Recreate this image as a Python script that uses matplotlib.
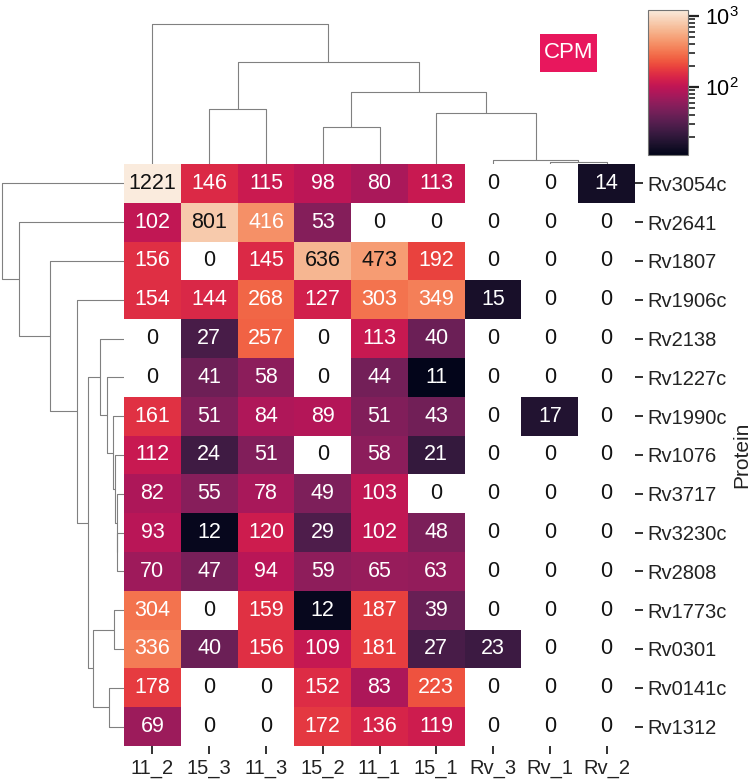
import numpy as np
import matplotlib
matplotlib.use("Agg")
import matplotlib.pyplot as plt
from matplotlib.colors import LogNorm, to_rgb
from matplotlib.patches import Rectangle
import seaborn as sns

plt.rcParams['font.family'] = ['Liberation Sans', 'DejaVu Sans']

# ---------------- data ----------------
columns = ["11_2", "15_3", "11_3", "15_2", "11_1", "15_1", "Rv_3", "Rv_1", "Rv_2"]
proteins = ["Rv3054c", "Rv2641", "Rv1807", "Rv1906c", "Rv2138", "Rv1227c", "Rv1990c",
            "Rv1076", "Rv3717", "Rv3230c", "Rv2808", "Rv1773c", "Rv0301", "Rv0141c", "Rv1312"]

rv3054c = [1221, 146, 115, 98, 80, 113, 0, 0, 14]
rv2641 = [102, 801, 416, 53, 0, 0, 0, 0, 0]
rv1807 = [156, 0, 145, 636, 473, 192, 0, 0, 0]
rv1906c = [154, 144, 268, 127, 303, 349, 15, 0, 0]
rv2138 = [0, 27, 257, 0, 113, 40, 0, 0, 0]
rv1227c = [0, 41, 58, 0, 44, 11, 0, 0, 0]
rv1990c = [161, 51, 84, 89, 51, 43, 0, 17, 0]
rv1076 = [112, 24, 51, 0, 58, 21, 0, 0, 0]
rv3717 = [82, 55, 78, 49, 103, 0, 0, 0, 0]
rv3230c = [93, 12, 120, 29, 102, 48, 0, 0, 0]
rv2808 = [70, 47, 94, 59, 65, 63, 0, 0, 0]
rv1773c = [304, 0, 159, 12, 187, 39, 0, 0, 0]
rv0301 = [336, 40, 156, 109, 181, 27, 23, 0, 0]
rv0141c = [178, 0, 0, 152, 83, 223, 0, 0, 0]
rv1312 = [69, 0, 0, 172, 136, 119, 0, 0, 0]

values = np.array([rv3054c, rv2641, rv1807, rv1906c, rv2138, rv1227c, rv1990c, rv1076,
                   rv3717, rv3230c, rv2808, rv1773c, rv0301, rv0141c, rv1312], dtype=float)

# column linkage: (child_a, child_b, distance); ints refer to earlier merges
col_merges = [
    ("Rv_1", "Rv_2", 2.3),
    ("Rv_3", 0, 4.0),
    ("15_1", 1, 50.7),
    ("15_2", "11_1", 37.0),
    (3, 2, 72.0),
    ("15_3", "11_3", 55.0),
    (5, 4, 102.3),
    ("11_2", 6, 139.7),
]
# row linkage
row_merges = [
    ("Rv3230c", "Rv2808", 6.7),
    ("Rv3717", 0, 7.5),
    ("Rv1076", 1, 9.0),
    ("Rv1990c", 2, 10.7),
    ("Rv1227c", 3, 17.3),
    ("Rv2138", 4, 24.0),
    ("Rv1773c", "Rv0301", 10.0),
    ("Rv0141c", "Rv1312", 14.7),
    (6, 7, 31.3),
    (5, 8, 36.3),
    ("Rv1906c", 9, 47.3),
    ("Rv1807", 10, 74.0),
    ("Rv2641", 11, 104.7),
    ("Rv3054c", 12, 121.7),
]

# ---------------- figure ----------------
W, H = 754, 781
fig = plt.figure(figsize=(W / 100, H / 100), dpi=100)

def px_axes(x0, y0, x1, y1):
    return fig.add_axes([x0 / W, 1 - y1 / H, (x1 - x0) / W, (y1 - y0) / H])

hx0, hy0, hx1, hy1 = 124, 164, 635, 746
ax = px_axes(hx0, hy0, hx1, hy1)
ax_top = px_axes(hx0, 17, hx1, hy0)
ax_left = px_axes(0, hy0, hx0, hy1)
cax = px_axes(648, 10, 688, 155)

cmap = sns.color_palette("rocket", as_cmap=True).copy()
cmap.set_bad((1, 1, 1, 0))
pos = values[values > 0]
norm = LogNorm(vmin=pos.min(), vmax=pos.max())
masked = np.ma.masked_where(values <= 0, values)

nr, nc = values.shape
mesh = ax.pcolormesh(np.arange(nc + 1), np.arange(nr + 1), masked, cmap=cmap, norm=norm)
ax.set_xlim(0, nc)
ax.set_ylim(nr, 0)
for s in ax.spines.values():
    s.set_visible(False)

def rel_lum(c):
    rgb = np.array(to_rgb(c))
    rgb = np.where(rgb <= .03928, rgb / 12.92, ((rgb + .055) / 1.055) ** 2.4)
    return rgb.dot([.2126, .7152, .0722])

for i in range(nr):
    for j in range(nc):
        v = values[i, j]
        if v > 0:
            col = cmap(norm(v))
            tc = "#111111" if rel_lum(col) > .408 else "white"
        else:
            tc = "#111111"
        ax.text(j + 0.5, i + 0.5, f"{int(v)}", ha="center", va="center",
                fontsize=15.5, color=tc)

ax.set_xticks(np.arange(nc) + 0.5)
ax.set_xticklabels(columns, fontsize=14.5, color="#222222")
ax.set_yticks(np.arange(nr) + 0.5)
ax.set_yticklabels(proteins, fontsize=14.5, color="#222222")
ax.yaxis.tick_right()
ax.tick_params(axis="both", length=6, width=1.3, pad=3, color="#222222")
fig.text(742 / W, 1 - 455 / H, "Protein", rotation=90, ha="center", va="center",
         fontsize=15, color="#222222")

# ---------------- dendrograms ----------------
def draw_dendro(axd, leaves, merges, orient):
    leaf_pos = {name: k + 0.5 for k, name in enumerate(leaves)}
    nodes = []
    def get(c):
        if isinstance(c, str):
            return leaf_pos[c], 0.0
        return nodes[c]
    for a, b, h in merges:
        pa, ha = get(a)
        pb, hb = get(b)
        xs = [pa, pa, pb, pb]
        ys = [ha, h, h, hb]
        if orient == "top":
            axd.plot(xs, ys, color="0.5", lw=0.8, solid_capstyle="butt")
        else:
            axd.plot(ys, xs, color="0.5", lw=0.8, solid_capstyle="butt")
        nodes.append(((pa + pb) / 2, h))
    axd.set_axis_off()

draw_dendro(ax_top, columns, col_merges, "top")
ax_top.set_xlim(0, nc)
ax_top.set_ylim(0, 147)

draw_dendro(ax_left, proteins, row_merges, "left")
ax_left.set_ylim(nr, 0)
ax_left.set_xlim(124, 0)

# ---------------- colorbar ----------------
cb = fig.colorbar(mesh, cax=cax)
cb.outline.set_edgecolor("0.45")
cb.outline.set_linewidth(0.8)
cax.tick_params(which="major", length=8, width=1.6, labelsize=15.5, color="#222222", pad=4)
cax.tick_params(which="minor", length=5, width=1.2, color="#222222")

# ---------------- CPM label ----------------
fig.patches.append(Rectangle((540 / W, 1 - 72 / H), 57 / W, 38 / H,
                             transform=fig.transFigure, facecolor="#e8175d",
                             edgecolor="none", zorder=1))
fig.text(568.5 / W, 1 - 53 / H, "CPM", ha="center", va="center", fontsize=16,
         color="white", zorder=2)

fig.savefig("out.png", dpi=100)
